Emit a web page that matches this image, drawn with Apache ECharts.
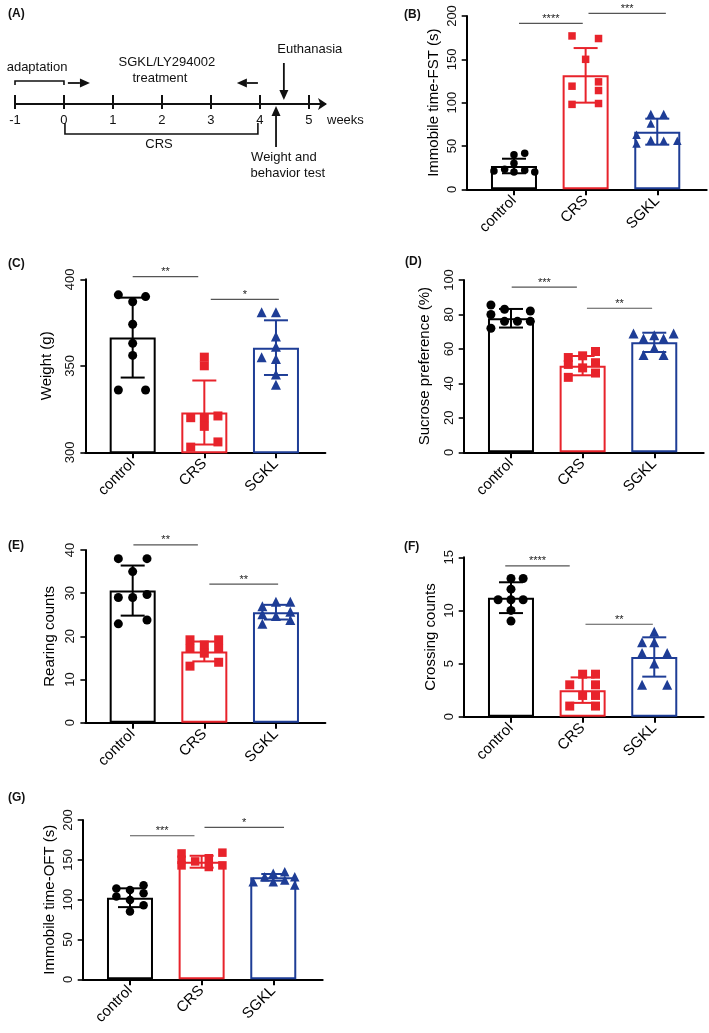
<!DOCTYPE html>
<html><head><meta charset="utf-8">
<script src="https://cdn.jsdelivr.net/npm/echarts@6/dist/echarts.min.js"></script>
<style>html,body{margin:0;padding:0;background:#fff}#c{width:709px;height:1033px}</style>
</head><body><div id="c"></div>
<script>
// ================= DATA =================
const categories = ['control', 'CRS', 'SGKL'];
const weekTicks = [-1, 0, 1, 2, 3, 4, 5];

// (B) Immobile time-FST (s)
const fstMean = [26.9, 131.5, 66.5];
const fstSD = [8.4, 31.5, 15.0];
const fstControl = [40, 41.5, 30, 21, 23, 20, 22, 20];
const fstCRS = [177, 174, 150, 119, 124, 114, 98, 99];
const fstSGKL = [87, 87, 76, 63, 53, 57, 56, 56];
const fstSig = ['****', '***'];

// (C) Weight (g)
const weightMean = [366.3, 323.0, 360.5];
const weightSD = [23.1, 18.5, 15.8];
const weightControl = [391, 390, 387, 374, 363, 356, 336, 336];
const weightCRS = [355, 350, 320, 320, 321, 315, 303, 306];
const weightSGKL = [381, 381, 367, 361, 355, 354, 345, 339];
const weightSig = ['**', '*'];

// (D) Sucrose preference (%)
const sucroseMean = [77.8, 50.3, 63.8];
const sucroseSD = [5.4, 5.6, 5.6];
const sucroseControl = [85.5, 83, 80, 82, 76, 76, 76, 72];
const sucroseCRS = [55, 56, 58.5, 51, 49, 52, 43.5, 46];
const sucroseSGKL = [69, 69, 66, 68, 66, 56.5, 60.5, 56.5];
const sucroseSig = ['***', '**'];

// (E) Rearing counts
const rearingMean = [30.6, 16.5, 25.6];
const rearingSD = [5.8, 2.3, 1.7];
const rearingControl = [38, 38, 35, 29, 29, 29.7, 23.8, 22.9];
const rearingCRS = [19.2, 19.2, 18, 17.2, 17.2, 16.1, 13.1, 14];
const rearingSGKL = [27, 28, 28, 25.1, 24.7, 25.7, 22.9, 23.8];
const rearingSig = ['**', '**'];

// (F) Crossing counts
const crossingMean = [11.2, 2.5, 5.62];
const crossingSD = [1.45, 1.2, 1.85];
const crossingControl = [13, 13, 12, 11, 11, 11, 10, 9];
const crossingCRS = [4, 4, 3, 3, 2, 2, 1, 1];
const crossingSGKL = [8, 7, 7, 6, 6, 5, 3, 3];
const crossingSig = ['****', '**'];

// (G) Immobile time-OFT (s)
const oftMean = [102.4, 147.6, 128.0];
const oftSD = [11.8, 7.5, 4.2];
const oftControl = [114, 112, 118, 104, 108, 99.5, 93, 85];
const oftCRS = [158, 150, 143, 148, 152, 141, 159, 143];
const oftSGKL = [122.5, 128.7, 133, 135, 122.5, 124.7, 128.7, 118.3];
const oftSig = ['***', '*'];

// (A) timeline labels
const timelineLabels = ['adaptation', 'SGKL/LY294002', 'treatment', 'CRS', 'Euthanasia', 'Weight and', 'behavior test'];

// ================= LAYOUT / STYLE =================
const FONT = "'Liberation Sans', Arial, Helvetica, sans-serif";
const COLORS = ['#000000', '#e8232b', '#1e3d96'];
const SYMBOLS = ['circle', 'rect', 'triangle'];

// timeline annotation placement (x in weeks, y in px-like units above the axis line)
const timelineTextPos = [[-0.55, 37], [2.1, 42], [1.96, 26], [1.94, -40], [5.02, 55], [4.49, -53], [4.57, -69]];
const timelineBrackets = [
  [[-1, 19], [-1, 23], [0, 23], [0, 19]],
  [[0.02, -19], [0.02, -30], [3.96, -30], [3.96, -19]]
];
const timelineArrows = [[0.08, 21, 0.53, 21], [3.96, 21, 3.53, 21], [4.49, 41, 4.49, 4], [4.33, -43, 4.33, -2]];

const panels = [
  { label: '(B)', lx: 399, ly: 4, grid: { left: 466.7, top: 16, width: 240, height: 173.3 },
    yName: 'Immobile time-FST (s)', nameGap: 25, min: 0, max: 200, interval: 50, size: 7.5,
    mean: fstMean, sd: fstSD, pts: [fstControl, fstCRS, fstSGKL],
    jit: [[0, 0.15, 0, -0.28, -0.13, 0, 0.15, 0.29], [-0.19, 0.18, 0, -0.19, 0.18, 0.18, -0.19, 0.18], [-0.09, 0.09, -0.09, -0.29, -0.29, -0.09, 0.09, 0.28]],
    sig: fstSig, sigPos: [[0.07, 0.96, 191.5], [1.04, 2.12, 203]] },
  { label: '(C)', lx: 3, ly: 253, grid: { left: 85.4, top: 279.3, width: 240, height: 173 },
    yName: 'Weight (g)', nameGap: 31, min: 300, max: 400, interval: 50, size: 9,
    mean: weightMean, sd: weightSD, pts: [weightControl, weightCRS, weightSGKL],
    jit: [[-0.2, 0.18, 0, 0, 0, 0, -0.2, 0.18], [0, 0, -0.19, 0, 0.19, 0, -0.19, 0.19], [-0.2, 0, 0, 0, -0.2, 0, 0, 0]],
    sig: weightSig, sigPos: [[0, 0.915, 401.5], [1.09, 2.04, 388.4]] },
  { label: '(D)', lx: 400, ly: 251, grid: { left: 463.7, top: 280, width: 240, height: 172.3 },
    yName: 'Sucrose preference (%)', nameGap: 31, min: 0, max: 100, interval: 20, size: 9,
    mean: sucroseMean, sd: sucroseSD, pts: [sucroseControl, sucroseCRS, sucroseSGKL],
    jit: [[-0.28, -0.09, -0.28, 0.27, -0.09, 0.09, 0.27, -0.28], [-0.2, 0, 0.18, -0.2, 0, 0.18, -0.2, 0.18], [-0.29, 0.27, -0.15, 0, 0.13, -0.15, 0, 0.13]],
    sig: sucroseSig, sigPos: [[0.01, 0.92, 95.9], [1.06, 1.97, 83.6]] },
  { label: '(E)', lx: 3, ly: 535, grid: { left: 85.4, top: 550, width: 240, height: 172.7 },
    yName: 'Rearing counts', nameGap: 28, min: 0, max: 40, interval: 10, size: 9,
    mean: rearingMean, sd: rearingSD, pts: [rearingControl, rearingCRS, rearingSGKL],
    jit: [[-0.2, 0.2, 0, -0.2, 0, 0.2, 0.2, -0.2], [-0.2, 0.2, 0, -0.2, 0.2, 0, -0.2, 0.2], [-0.19, 0, 0.2, -0.19, 0, 0.2, -0.19, 0.2]],
    sig: rearingSig, sigPos: [[0.01, 0.91, 41.2], [1.07, 2.03, 32.1]] },
  { label: '(F)', lx: 399, ly: 536, grid: { left: 463.7, top: 557.3, width: 240, height: 159.4 },
    yName: 'Crossing counts', nameGap: 25, min: 0, max: 15, interval: 5, size: 9,
    mean: crossingMean, sd: crossingSD, pts: [crossingControl, crossingCRS, crossingSGKL],
    jit: [[0, 0.17, 0, -0.18, 0, 0.17, 0, 0], [0, 0.18, -0.18, 0.18, 0, 0.18, -0.18, 0.18], [0, -0.17, 0, -0.17, 0.18, 0, -0.17, 0.18]],
    sig: crossingSig, sigPos: [[-0.08, 0.82, 14.2], [1.04, 1.98, 8.7]] },
  { label: '(G)', lx: 3, ly: 787, grid: { left: 82.7, top: 820, width: 240, height: 159.3 },
    yName: 'Immobile time-OFT (s)', nameGap: 25, min: 0, max: 200, interval: 50, size: 8.5,
    mean: oftMean, sd: oftSD, pts: [oftControl, oftCRS, oftSGKL],
    jit: [[-0.19, 0, 0.19, -0.19, 0.19, 0, 0.19, 0], [-0.28, -0.28, -0.28, -0.09, 0.1, 0.1, 0.29, 0.29], [-0.28, -0.12, 0, 0.16, 0, 0.16, 0.3, 0.3]],
    sig: oftSig, sigPos: [[0, 0.9, 180.2], [1.04, 2.15, 190.7]] }
];

// ================= BUILD =================
// panel A grid: its bottom edge is the timeline (y = 0)
const grids = [{ left: 15, top: 44, width: 310, height: 60 }];
const xAxes = [
  { gridIndex: 0, type: 'value', min: -1, max: 5.33, position: 'bottom',
    axisLine: { show: true, onZero: false, lineStyle: { color: '#111', width: 2 }, symbol: ['none', 'arrow'], symbolSize: [9, 9], symbolOffset: [0, 2] },
    axisTick: { show: true, inside: true, length: 9, customValues: weekTicks, lineStyle: { color: '#111', width: 2 } },
    axisLabel: { show: true, customValues: weekTicks, fontSize: 13, color: '#111', margin: 10, fontFamily: FONT },
    splitLine: { show: false } },
  { gridIndex: 0, type: 'value', min: -1, max: 5.33, position: 'bottom',
    axisLine: { show: false, onZero: false },
    axisTick: { show: true, inside: false, length: 5, customValues: weekTicks, lineStyle: { color: '#111', width: 2 } },
    axisLabel: { show: false }, splitLine: { show: false } }
];
const yAxes = [{ gridIndex: 0, type: 'value', min: 0, max: 60, show: false }];
const titles = [{ text: '(A)', left: 3, top: 3, textStyle: { fontSize: 12, fontWeight: 'bold', color: '#111', fontFamily: FONT } }];
const series = [];

series.push({
  type: 'custom', xAxisIndex: 0, yAxisIndex: 0, silent: true, clip: false,
  data: timelineTextPos,
  renderItem: (params, api) => {
    const p = api.coord([api.value(0), api.value(1)]);
    return { type: 'text', x: p[0], y: p[1],
      style: { text: timelineLabels[params.dataIndex], fontSize: 13, fontFamily: FONT, fill: '#111', align: 'center', verticalAlign: 'middle' } };
  }
});
series.push({
  type: 'custom', xAxisIndex: 0, yAxisIndex: 0, silent: true, clip: false,
  data: [[5.33, -16]],
  renderItem: (params, api) => {
    const p = api.coord([api.value(0), api.value(1)]);
    return { type: 'text', x: p[0] + 2, y: p[1],
      style: { text: 'weeks', fontSize: 13, fontFamily: FONT, fill: '#111', align: 'left', verticalAlign: 'middle' } };
  }
});
series.push({
  type: 'custom', xAxisIndex: 0, yAxisIndex: 0, silent: true, clip: false,
  data: timelineBrackets.map((b, i) => [b[0][0], b[0][1], i]),
  renderItem: (params, api) => {
    const pts = timelineBrackets[params.dataIndex].map(q => api.coord(q));
    return { type: 'polyline', shape: { points: pts }, style: { stroke: '#111', lineWidth: 1.6, fill: null } };
  }
});
series.push({
  type: 'custom', xAxisIndex: 0, yAxisIndex: 0, silent: true, clip: false,
  data: timelineArrows,
  renderItem: (params, api) => {
    const a = api.coord([api.value(0), api.value(1)]);
    const b = api.coord([api.value(2), api.value(3)]);
    const dx = b[0] - a[0], dy = b[1] - a[1];
    const L = Math.sqrt(dx * dx + dy * dy);
    const ux = dx / L, uy = dy / L, nx = -uy, ny = ux;
    const hl = 10, hw = 4.5;
    const bx = b[0] - ux * hl, by = b[1] - uy * hl;
    return { type: 'group', children: [
      { type: 'line', shape: { x1: a[0], y1: a[1], x2: bx, y2: by }, style: { stroke: '#111', lineWidth: 1.8 } },
      { type: 'polygon', shape: { points: [[b[0], b[1]], [bx + nx * hw, by + ny * hw], [bx - nx * hw, by - ny * hw]] }, style: { fill: '#111' } }
    ] };
  }
});

panels.forEach((P, idx) => {
  const gi = idx + 1;
  const xi = idx + 2;
  grids.push(P.grid);
  titles.push({ text: P.label, left: P.lx, top: P.ly, textStyle: { fontSize: 12, fontWeight: 'bold', color: '#111', fontFamily: FONT } });
  xAxes.push({
    gridIndex: gi, type: 'value', min: -0.66, max: 2.69, position: 'bottom',
    axisLine: { show: true, onZero: false, lineStyle: { color: '#000', width: 2 } },
    axisTick: { show: true, customValues: [0, 1, 2], length: 6, lineStyle: { color: '#000', width: 2 } },
    axisLabel: { show: true, customValues: [0, 1, 2], formatter: v => categories[Math.round(v)], rotate: 45, fontSize: 15, color: '#000', margin: 9, fontFamily: FONT },
    splitLine: { show: false }
  });
  yAxes.push({
    gridIndex: gi, type: 'value', min: P.min, max: P.max, interval: P.interval, position: 'left',
    axisLine: { show: true, onZero: false, lineStyle: { color: '#000', width: 2 } },
    axisTick: { show: true, length: 5, lineStyle: { color: '#000', width: 1.6 } },
    axisLabel: { show: true, rotate: 90, fontSize: 13, color: '#111', margin: 8, fontFamily: FONT },
    splitLine: { show: false },
    name: P.yName, nameLocation: 'middle', nameGap: P.nameGap,
    nameTextStyle: { fontSize: 15, color: '#000', fontFamily: FONT }
  });
  series.push({
    type: 'bar', xAxisIndex: xi, yAxisIndex: gi, barWidth: 46, silent: true, z: 2,
    data: P.mean.map((m, k) => ({ value: [k, m], itemStyle: { color: '#fff', borderColor: COLORS[k], borderWidth: 2 } }))
  });
  series.push({
    type: 'custom', xAxisIndex: xi, yAxisIndex: gi, silent: true, z: 3,
    data: P.mean.map((m, k) => [k, m, P.sd[k]]),
    renderItem: (params, api) => {
      const x = api.value(0), m = api.value(1), s = api.value(2);
      const t = api.coord([x, m + s]), b = api.coord([x, m - s]);
      const hw = 12;
      const st = { stroke: COLORS[params.dataIndex], lineWidth: 2 };
      return { type: 'group', children: [
        { type: 'line', shape: { x1: t[0], y1: t[1], x2: b[0], y2: b[1] }, style: st },
        { type: 'line', shape: { x1: t[0] - hw, y1: t[1], x2: t[0] + hw, y2: t[1] }, style: st },
        { type: 'line', shape: { x1: b[0] - hw, y1: b[1], x2: b[0] + hw, y2: b[1] }, style: st }
      ] };
    }
  });
  P.pts.forEach((arr, k) => {
    series.push({
      type: 'scatter', xAxisIndex: xi, yAxisIndex: gi, silent: true, z: 4,
      symbol: SYMBOLS[k], symbolSize: k === 2 ? P.size + 1 : P.size,
      itemStyle: { color: COLORS[k], opacity: 1 },
      data: arr.map((v, i) => [k + P.jit[k][i], v])
    });
  });
  series.push({
    type: 'custom', xAxisIndex: xi, yAxisIndex: gi, silent: true, z: 5, clip: false,
    data: P.sigPos,
    renderItem: (params, api) => {
      const a = api.coord([api.value(0), api.value(2)]);
      const b = api.coord([api.value(1), api.value(2)]);
      return { type: 'group', children: [
        { type: 'line', shape: { x1: a[0], y1: a[1], x2: b[0], y2: b[1] }, style: { stroke: '#555', lineWidth: 1.2 } },
        { type: 'text', x: (a[0] + b[0]) / 2, y: a[1] + 1,
          style: { text: P.sig[params.dataIndex], fontSize: 11, fontFamily: FONT, fill: '#222', align: 'center', verticalAlign: 'bottom' } }
      ] };
    }
  });
});

const chart = echarts.init(document.getElementById('c'), null, { renderer: 'canvas' });
chart.setOption({
  animation: false,
  backgroundColor: '#fff',
  textStyle: { fontFamily: FONT },
  title: titles,
  grid: grids,
  xAxis: xAxes,
  yAxis: yAxes,
  series: series
});
</script>
</body></html>
